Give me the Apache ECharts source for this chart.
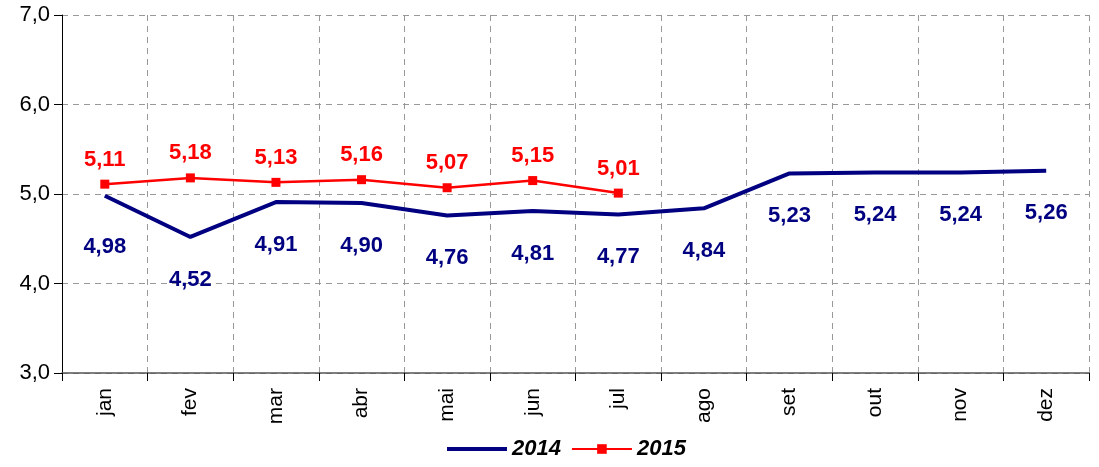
<!DOCTYPE html>
<html>
<head>
<meta charset="utf-8">
<script src="https://cdn.jsdelivr.net/npm/echarts@6/dist/echarts.min.js"></script>
<style>
  html, body { margin: 0; padding: 0; background: #fff; }
  #chart { width: 1099px; height: 467px; }
</style>
</head>
<body>
<div id="chart"></div>
<script>
const months = ['jan', 'fev', 'mar', 'abr', 'mai', 'jun', 'jul', 'ago', 'set', 'out', 'nov', 'dez']
const values2014 = [4.98, 4.52, 4.91, 4.90, 4.76, 4.81, 4.77, 4.84, 5.23, 5.24, 5.24, 5.26]
const values2015 = [5.11, 5.18, 5.13, 5.16, 5.07, 5.15, 5.01]

const font = '"Liberation Sans", Arial, sans-serif'

function comma(v, digits) {
  return Number(v).toFixed(digits).replace('.', ',')
}

// first 2014 label sits a little lower in the original
const data2014 = values2014.map((v, i) => (i === 0 ? { value: v, label: { offset: [0, 9] } } : v))

const chart = echarts.init(document.getElementById('chart'))
chart.setOption({
  animation: false,
  textStyle: { fontFamily: font },
  grid: { left: 62, right: 10, top: 15, bottom: 94 },
  legend: {
    bottom: 2,
    left: 440,
    itemWidth: 60,
    itemHeight: 12,
    itemGap: 10,
    textStyle: { fontSize: 22, fontWeight: 'bold', fontStyle: 'italic', color: '#000', fontFamily: font },
    data: [
      { name: '2014', lineStyle: { width: 4 } },
      { name: '2015' },
    ],
  },
  xAxis: {
    type: 'category',
    data: months,
    boundaryGap: true,
    axisLine: { lineStyle: { color: '#555', width: 1.5 } },
    axisTick: { show: true, length: 8, lineStyle: { color: '#000' } },
    axisLabel: { rotate: 90, fontSize: 21, color: '#000', margin: 15, fontFamily: font },
    splitLine: { show: true, lineStyle: { color: '#999', type: [6, 5], width: 1 } },
  },
  yAxis: {
    type: 'value',
    min: 3,
    max: 7,
    interval: 1,
    axisLine: { show: true, lineStyle: { color: '#000', width: 1 } },
    axisTick: { show: true, length: 8, lineStyle: { color: '#000' } },
    axisLabel: { fontSize: 22, color: '#000', margin: 12, formatter: (v) => comma(v, 1), fontFamily: font },
    splitLine: { show: true, lineStyle: { color: '#999', type: [6, 5], width: 1 } },
  },
  series: [
    {
      name: '2014',
      type: 'line',
      data: data2014,
      symbol: 'circle',
      symbolSize: 1,
      showAllSymbol: true,
      lineStyle: { color: '#000080', width: 4 },
      itemStyle: { color: 'rgba(0,0,0,0)' },
      label: {
        show: true,
        position: 'bottom',
        distance: 31,
        fontSize: 22,
        fontWeight: 'bold',
        color: '#000080',
        fontFamily: font,
        formatter: (p) => comma(p.value, 2),
      },
      z: 2,
    },
    {
      name: '2015',
      type: 'line',
      data: values2015,
      symbol: 'rect',
      symbolSize: 9,
      showAllSymbol: true,
      lineStyle: { color: '#ff0000', width: 2.5 },
      itemStyle: { color: '#ff0000' },
      label: {
        show: true,
        position: 'top',
        distance: 9,
        fontSize: 22,
        fontWeight: 'bold',
        color: '#ff0000',
        fontFamily: font,
        formatter: (p) => comma(p.value, 2),
      },
      z: 3,
    },
  ],
})
</script>
</body>
</html>
